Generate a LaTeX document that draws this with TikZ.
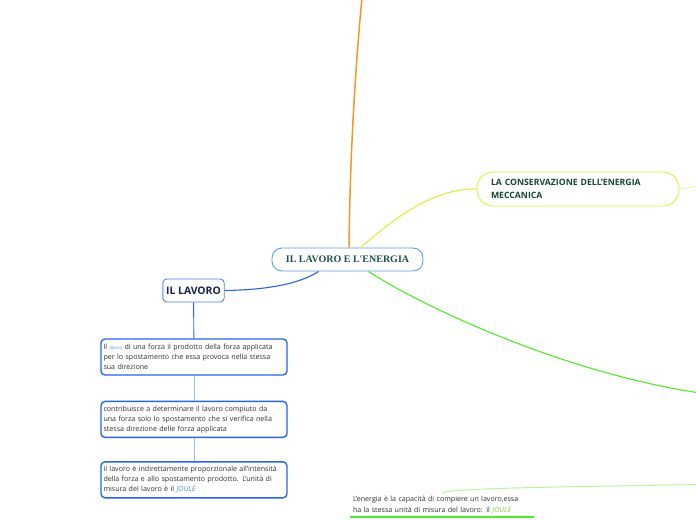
\documentclass[tikz,border=0pt]{standalone}
\usepackage{fontspec}
\setmainfont{Open Sans}
\newfontfamily\titlefont{Liberation Serif}
\usepackage{xcolor}
\usepackage{tikz}
\usetikzlibrary{positioning}
\definecolor{rootline}{RGB}{90,160,220}
\definecolor{roottext}{RGB}{25,80,70}
\definecolor{lavblue}{RGB}{40,100,232}
\definecolor{lavlight}{RGB}{150,190,242}
\definecolor{lavtext}{RGB}{20,35,80}
\definecolor{consyellow}{RGB}{215,242,60}
\definecolor{conslight}{RGB}{235,248,170}
\definecolor{constext}{RGB}{20,70,50}
\definecolor{branchorange}{RGB}{248,150,30}
\definecolor{branchgreen}{RGB}{80,235,40}
\definecolor{palegreen}{RGB}{185,245,155}
\definecolor{joulegreen}{RGB}{140,205,60}
\definecolor{jouleblue}{RGB}{80,150,220}
\definecolor{bodytext}{RGB}{45,45,45}

\begin{document}
\begin{tikzpicture}[
  x=1pt, y=-1pt,
  root/.style={rectangle, draw=rootline, rounded corners=10pt, line width=0.9pt,
               minimum width=151pt, minimum height=23pt,
               font=\titlefont\bfseries\fontsize{10}{12}\selectfont, text=roottext},
  topic/.style={rectangle, draw=lavblue!80, rounded corners=4pt, line width=0.9pt,
                minimum width=61pt, minimum height=23pt,
                font=\bfseries\fontsize{10.4}{12}\selectfont, text=lavtext},
  leaf/.style={rectangle, draw=lavblue, rounded corners=4pt, line width=1.4pt,
               text width=181pt, inner xsep=2.5pt, minimum height=36pt, align=left,
               font=\fontsize{7.1}{10}\selectfont, text=bodytext},
  cons/.style={rectangle, draw=consyellow, rounded corners=16pt, line width=0.9pt,
               text width=174pt, inner xsep=14pt, minimum height=34pt, align=left,
               font=\bfseries\fontsize{8.7}{13}\selectfont, text=constext},
  branch/.style={line width=1.1pt},
]
\useasboundingbox (0,0) rectangle (696,520);

% centre
\node[root] (root) at (347.5,259.5) {IL LAVORO E L'ENERGIA};
\coordinate (topend) at (362,-2);
\draw[branch, branchorange, line width=1.5pt] ([xshift=1.5pt]root.north)
  .. controls (350,150) and (356,60) .. (topend);

% conservazione
\node[cons] (cons) at (578,189) {LA CONSERVAZIONE DELL'ENERGIA\\MECCANICA};
\draw[branch, consyellow] ([xshift=13pt]root.north)
  .. controls (388,224) and (430,188) .. (cons.west);
\coordinate (consend) at (700,186);
\draw[conslight, line width=1pt] (cons.east) -- (consend);

% energia
\coordinate (rightend) at (700,393);
\draw[branch, branchgreen] ([xshift=21pt]root.south)
  .. controls (420,305) and (560,372) .. (rightend);

\node[font=\fontsize{7.1}{11}\selectfont, text=bodytext, text width=178pt,
      inner xsep=3pt, inner ysep=3pt, align=left] (energia) at (442,505)
  {L'energia è la capacità di compiere un lavoro,essa\\
   ha la stessa unità di misura del lavoro: il {\itshape\color{joulegreen}JOULE}};
\draw[branchgreen, line width=2pt] (energia.south west) -- (energia.south east);
\coordinate (lowend) at (700,484.5);
\draw[palegreen, line width=1pt] (lowend) .. controls (560,487) and (452,488) .. (energia.north);

% il lavoro
\node[topic] (lavoro) at (193.5,290.5) {IL LAVORO};
\draw[branch, lavblue] ([xshift=-29pt]root.south)
  .. controls (298,285) and (262,290) .. (lavoro.east);

\node[leaf] (def) at (194,357)
  {Il {\fontsize{4.5}{4}\selectfont\itshape\color{jouleblue}lavoro} di una forza il prodotto della forza applicata\\
   per lo spostamento che essa provoca nella stessa\\
   sua direzione};
\node[leaf, below=25pt of def] (spost)
  {contribuisce a determinare il lavoro compiuto da\\
   una forza solo lo spostamento che si verifica nella\\
   stessa direzione delle forza applicata};
\node[leaf, below=23pt of spost] (prop)
  {il lavoro è indirettamente proporzionale all'intensità\\
   della forza e allo spostamento prodotto. L'unità di\\
   misura del lavoro è il {\itshape\color{jouleblue}JOULE}};
\draw[lavblue, line width=0.9pt] (lavoro) -- (def);
\draw[lavlight, line width=0.9pt] (def) -- (spost);
\draw[lavlight, line width=0.9pt] (spost) -- (prop);
\end{tikzpicture}
\end{document}
